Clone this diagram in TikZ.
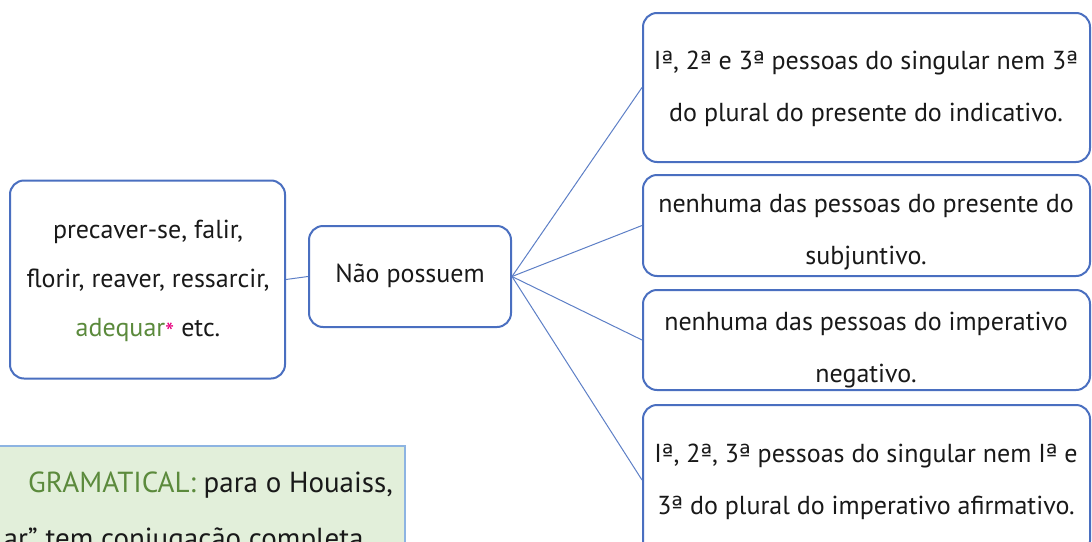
\documentclass[tikz,border=0pt]{standalone}
\usepackage{fontspec}
\setmainfont{PT Sans}
\newfontfamily\ordfont{DejaVu Sans}[Scale=0.95]
\newcommand{\oa}{{\ordfont ª}}
\definecolor{boxblue}{HTML}{4A6FC0}
\definecolor{linkblue}{HTML}{5D7FC6}
\definecolor{notegreen}{HTML}{E2EFDA}
\definecolor{noteborder}{HTML}{8DB4E2}
\definecolor{txtgreen}{HTML}{5B8A3C}
\definecolor{starpink}{HTML}{E6007E}
\tikzset{
  mapbox/.style={draw=boxblue, line width=2pt, rounded corners=14pt, fill=white, inner sep=0pt},
  link/.style={draw=linkblue, line width=1pt},
  maptext/.style={inner sep=0pt, align=center, text=black!90},
}
\begin{document}
\begin{tikzpicture}[x=1pt,y=-1pt]
\useasboundingbox (0,0) rectangle (1092,541);
\begin{scope}
\clip (0,0) rectangle (1092,541);
% note box
\node[fill=notegreen, draw=noteborder, line width=1.5pt, minimum width=440pt, minimum height=140pt, inner sep=0pt] (note) at (185,516) {};
\node[inner sep=0pt, anchor=base east, text=black!90, font=\fontsize{29}{29}\selectfont] (noteA) at (393,492) {\textcolor{txtgreen}{GRAMATICAL:} para o Houaiss,};
\node[inner sep=0pt, anchor=base east, text=black!90, font=\fontsize{29}{29}\selectfont] (noteB) at (370,548) {ar” tem conjugação completa.};
% boxes
\node[mapbox, minimum width=275pt, minimum height=198pt] (left) at (147.5,279.5) {};
\node[mapbox, minimum width=202pt, minimum height=101pt] (mid) at (410,276.5) {};
\node[mapbox, minimum width=447pt, minimum height=149pt] (r1) at (866.5,87.5) {};
\node[mapbox, minimum width=447pt, minimum height=101pt] (r2) at (866.5,225.5) {};
\node[mapbox, minimum width=447pt, minimum height=100pt] (r3) at (866.5,340) {};
\node[mapbox, minimum width=447pt, minimum height=150pt] (r4) at (866.5,480) {};
% connectors
\draw[link] (left.east) -- (mid.west);
\draw[link] (mid.east) -- (r1.west);
\draw[link] (mid.east) -- (r2.west);
\draw[link] (mid.east) -- (r3.west);
\draw[link] (mid.east) -- (r4.west);
% texts
\node[maptext, font=\fontsize{26}{49}\selectfont] (tleft) at (148,281) {precaver-se, falir,\\florir, reaver, ressarcir,\\\textcolor{txtgreen}{adequar}\raisebox{-0.2em}{\textcolor{starpink}{*}} etc.};
\node[maptext, font=\fontsize{26}{26}\selectfont] (tmid) at (410,276) {Não possuem};
\node[maptext, font=\fontsize{26}{52}\selectfont] (t1) at (866,89) {I\oa, 2\oa{} e 3\oa{} pessoas do singular nem 3\oa\\do plural do presente do indicativo.};
\node[maptext, font=\fontsize{26}{52}\selectfont] (t2) at (866,232) {nenhuma das pessoas do presente do\\subjuntivo.};
\node[maptext, font=\fontsize{26}{52}\selectfont] (t3) at (866,350) {nenhuma das pessoas do imperativo\\negativo.};
\node[maptext, font=\fontsize{26}{52}\selectfont] (t4) at (866,482) {I\oa, 2\oa, 3\oa{} pessoas do singular nem I\oa{} e\\3\oa{} do plural do imperativo afirmativo.};
\end{scope}
\end{tikzpicture}
\end{document}
